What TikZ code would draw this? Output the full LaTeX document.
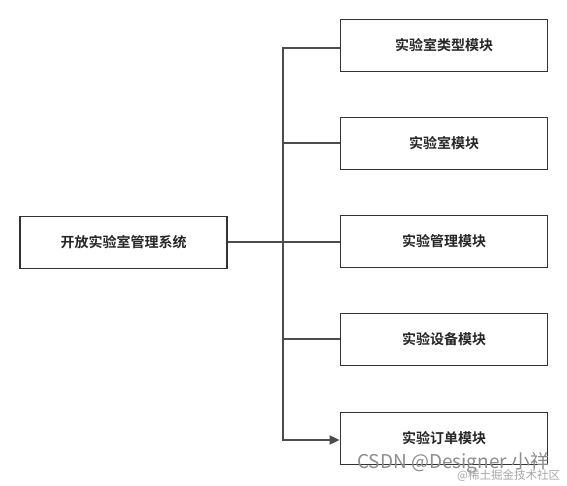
\documentclass[tikz,border=0pt]{standalone}
\usepackage{fontspec}
\newfontfamily\cjk{Noto Sans CJK SC}
\newfontfamily\cjkb{Noto Sans CJK SC Bold}
\usetikzlibrary{arrows.meta}
\begin{document}
\begin{tikzpicture}[x=1pt,y=-1pt,
  box/.style={draw=black!80,line width=1.8pt,minimum width=207pt,minimum height=52pt,inner sep=0pt,font=\cjkb\fontsize{14}{16}\selectfont,text=black!85},
  conn/.style={draw=black!70,line width=1.8pt},
  wm/.style={text=black!45,font=\cjk\fontsize{19}{20}\selectfont,anchor=base west,inner sep=0pt}]
\useasboundingbox (0,0) rectangle (567,485);
\node[box] (root) at (123.5,242.5) {开放实验室管理系统};
\node[box] (m1) at (444,45.5) {实验室类型模块};
\node[box] (m2) at (444,143.5) {实验室模块};
\node[box] (m3) at (444,241.5) {实验管理模块};
\node[box] (m4) at (444,339.5) {实验设备模块};
\node[box] (m5) at (444,438.5) {实验订单模块};
\coordinate (t) at (283,242);
\draw[conn] (root.east |- t) -- (t);
\draw[conn] (t) -- (283,48) -- (m1.west |- 0,48);
\draw[conn] (283,143) -- (m2.west |- 0,143);
\draw[conn] (t) -- (m3.west |- t);
\draw[conn] (283,339) -- (m4.west |- 0,339);
\draw[conn,-{Triangle[length=10pt,width=9pt]}] (t) -- (283,440) -- (m5.west |- 0,440);
\begin{scope}
\clip (340,440) rectangle (547,485);
\node[wm] (w1) at (357,468) {CSDN @Designer 小祥};
\end{scope}
\node[anchor=base west,inner sep=0pt,text=black!35,font=\cjk\fontsize{11.5}{12}\selectfont] (w2) at (457,479) {@稀土掘金技术社区};
\end{tikzpicture}
\end{document}
